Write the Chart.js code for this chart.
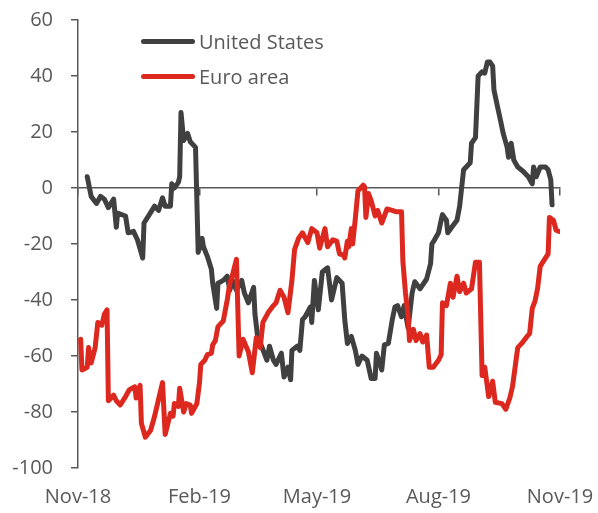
<!DOCTYPE html>
<html>
<head>
<meta charset="utf-8">
<script src="https://cdn.jsdelivr.net/npm/chart.js@4.4.1/dist/chart.umd.min.js"></script>
<style>
  body { margin: 0; background: #fff; }
  #wrap { position: relative; width: 598px; height: 513px; }
  #legend { position: absolute; left: 141px; top: 24px; font-family: "Open Sans", sans-serif; font-size: 20px; color: #595959; }
  #legend .row { display: flex; align-items: center; height: 35px; }
  #legend .swatch { width: 54px; height: 5px; border-radius: 3px; margin-right: 4px; }
</style>
</head>
<body>
<div id="wrap">
  <canvas id="chart"></canvas>
  <div id="legend">
    <div class="row"><span class="swatch" style="background:#404040"></span>United States</div>
    <div class="row"><span class="swatch" style="background:#dc281e"></span>Euro area</div>
  </div>
</div>
<script>
// x values are days counted from 1 Nov 2018
var tickDays = [0, 92, 181, 273, 365];
var tickLabels = ['Nov-18', 'Feb-19', 'May-19', 'Aug-19', 'Nov-19'];

var usDays = [7, 10, 14, 17, 20, 23, 27, 29, 30, 36, 38, 42, 45, 49, 50, 56, 58, 61, 64, 66,
  70, 71, 73, 76, 77, 78, 80, 83, 85, 89, 91, 94, 95, 98, 101, 102, 105, 106, 110, 113,
  115, 117, 120, 124, 126, 129, 133, 134, 136, 139, 143, 145, 148, 150, 154, 156, 159, 161, 162, 166,
  168, 170, 172, 176, 177, 179, 182, 185, 189, 192, 196, 200, 202, 204, 207, 210, 212, 215, 219, 222,
  225, 226, 230, 232, 235, 238, 240, 242, 245, 247, 250, 253, 255, 259, 264, 267, 268, 270, 273, 275,
  276, 279, 280, 283, 287, 289, 292, 294, 297, 298, 301, 302, 303, 306, 308, 310, 312, 314, 315, 317,
  320, 322, 325, 326, 328, 330, 333, 337, 341, 344, 345, 347, 350, 354, 356, 358, 359];
var usValues = [4, -3, -5.5, -3, -4, -7, -4, -14, -9, -10, -16, -15.5, -18.5, -25, -12.5, -8, -6.5, -8, -3.5, -6.5,
  -6.5, 1.5, 0, 2, 4, 27, 17, 19.5, 16.5, 14.5, -23, -18, -21, -24.5, -29, -34, -43, -34, -33, -31.5,
  -36.5, -33, -36.5, -33, -37.5, -41, -35.5, -45, -53, -56.5, -61.5, -56.5, -61.5, -63, -59, -67.5, -64, -68.5, -58, -56.5,
  -58, -47, -46, -42.5, -48, -33, -43.5, -30, -28.5, -40, -32, -34, -47, -55.5, -53, -58, -63, -60, -61.5, -68,
  -68, -59, -65, -56, -55.5, -47, -42.5, -42, -46, -42, -50, -37.5, -33.5, -36, -32.5, -27, -20, -18.5, -16, -11.5,
  -9.5, -11.5, -16, -14, -11.5, -6.5, 6.5, 7.5, 9, 16, 18, 29, 40, 41.5, 41, 45, 45, 43.5, 35, 30.5,
  24, 19.5, 14.5, 11, 16, 10, 7.5, 6, 4, 1.5, 7.5, 4, 7.5, 7.5, 6.5, 3, -6];

var euDays = [2, 3, 7, 8, 10, 13, 15, 18, 20, 22, 23, 27, 29, 32, 36, 39, 43, 44, 47, 48,
  51, 55, 58, 61, 64, 66, 70, 72, 73, 76, 77, 80, 82, 85, 86, 90, 92, 93, 96, 98,
  101, 102, 104, 106, 110, 113, 115, 117, 120, 122, 125, 129, 132, 135, 138, 140, 144, 148, 150, 153,
  156, 159, 162, 164, 167, 170, 174, 177, 181, 183, 187, 189, 193, 196, 198, 201, 202, 204, 205, 207,
  208, 210, 212, 216, 217, 218, 220, 222, 225, 227, 230, 234, 238, 241, 245, 246, 248, 250, 251, 254,
  256, 259, 261, 264, 266, 269, 273, 275, 276, 279, 282, 284, 287, 289, 292, 294, 298, 301, 304, 306,
  308, 311, 314, 316, 321, 324, 327, 329, 333, 336, 340, 342, 344, 346, 348, 350, 352, 356, 357, 360,
  362, 364];
var euValues = [-54, -65, -64, -57, -62.5, -57, -48, -49, -45, -43.5, -76, -74, -76, -77.5, -74.5, -72, -71, -75, -70.5, -84,
  -89, -86.5, -81.5, -75.5, -69.5, -88, -80.5, -81.5, -77, -78, -71.5, -80, -77, -77.5, -80.5, -77, -69.5, -63, -61.5, -59.5,
  -59, -56, -54.5, -49.5, -47.5, -40, -34, -31, -25.5, -60, -54, -58.5, -66, -53.5, -57, -48, -44.5, -42, -41, -36.5,
  -39, -44.5, -33, -22, -18, -16, -19.5, -14.5, -16, -21.5, -14.5, -21, -18.5, -19, -23.5, -24, -25, -19, -21, -14.5,
  -20, -11, -1, 1, 0.5, -10.5, -2, -4.5, -10, -8, -12.5, -7.5, -8, -8.5, -8.5, -26, -37.5, -46, -54.5, -50.5,
  -54.5, -52, -55, -52.5, -64, -64, -61.5, -59.5, -41, -42, -34, -39, -31.5, -37, -34, -37.5, -36, -26.5, -26.5, -67,
  -64, -74.5, -69, -76.5, -77, -79, -75, -71, -57, -55.5, -53, -52, -43, -40.5, -36, -28, -26.5, -23.5, -10.5, -11.5,
  -15, -15.5];

function toPoints(days, values) {
    var pts = [];
    for (var i = 0; i < days.length; i++) {
        pts.push({ x: days[i], y: values[i] });
    }
    return pts;
}

var axisColor = '#595959';
var tickFont = { family: '"Open Sans", sans-serif', size: 20 };

function setDateTicks(scale) {
    scale.ticks = tickDays.map(function (d) { return { value: d }; });
}

new Chart(document.getElementById('chart').getContext('2d'), {
    type: 'line',
    data: {
        datasets: [{
            label: 'United States',
            data: toPoints(usDays, usValues),
            borderColor: '#404040',
            order: 1
        }, {
            label: 'Euro area',
            data: toPoints(euDays, euValues),
            borderColor: '#dc281e',
            order: 0
        }]
    },
    options: {
        responsive: true,
        maintainAspectRatio: false,
        animation: false,
        layout: { padding: { top: 20, right: 38, bottom: 0, left: 0 } },
        plugins: { legend: { display: false }, tooltip: { enabled: false } },
        elements: {
            point: { radius: 0 },
            line: { borderWidth: 5, borderJoinStyle: 'round', borderCapStyle: 'round', tension: 0, fill: false }
        },
        scales: {
            x: {
                type: 'linear',
                min: 0,
                max: 365,
                afterBuildTicks: setDateTicks,
                afterFit: function (s) {
                    s.height = 45;
                    s.paddingLeft = 0;
                    s.paddingRight = 0;
                },
                ticks: {
                    autoSkip: false,
                    maxRotation: 0,
                    padding: 17,
                    color: axisColor,
                    font: tickFont,
                    callback: function (v, i) { return tickLabels[i]; }
                },
                grid: { display: false, drawTicks: false },
                border: { display: false }
            },
            xZero: {
                type: 'linear',
                axis: 'x',
                position: { y: 0 },
                min: 0,
                max: 365,
                afterBuildTicks: setDateTicks,
                ticks: { display: false },
                grid: { drawOnChartArea: false, drawTicks: true, tickLength: 7, color: axisColor, lineWidth: 1.5 },
                border: { color: axisColor, width: 1.5 }
            },
            y: {
                min: -100,
                max: 60,
                afterFit: function (s) {
                    s.width = 78;
                    s.paddingTop = 0;
                    s.paddingBottom = 0;
                },
                ticks: { stepSize: 20, padding: 18, color: axisColor, font: tickFont },
                grid: { drawOnChartArea: false, drawTicks: true, tickLength: 7, color: axisColor, lineWidth: 1.5 },
                border: { color: axisColor, width: 1.5 }
            }
        }
    }
});
</script>
</body>
</html>
